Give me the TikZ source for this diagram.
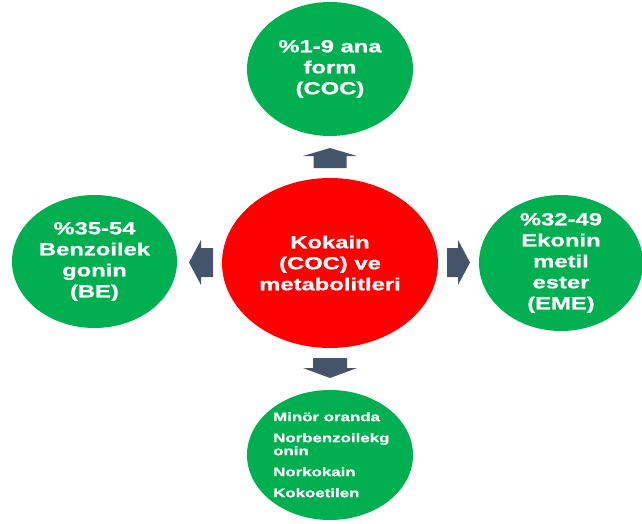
\documentclass[tikz,border=0pt]{standalone}
\usepackage{fontspec}
\newfontfamily\lblfont{Liberation Sans}[FakeStretch=1.36,FakeBold=0.8]
\usepackage{xcolor}
\usetikzlibrary{shapes.geometric,calc}

\definecolor{pptgreen}{HTML}{00B050}
\definecolor{pptred}{HTML}{FF0000}
\definecolor{slate}{HTML}{44546A}

% block arrow: tail, tip, shaft half width, head half width, head length
\newcommand{\blockarrow}[5]{%
  \coordinate (neck) at ($(#2)!#5!(#1)$);
  \fill[blk] ($(#1)!#3!90:(#2)$) -- ($(neck)!#3!-90:(#1)$) -- ($(neck)!#4!-90:(#1)$)
    -- (#2) -- ($(neck)!#4!90:(#1)$) -- ($(neck)!#3!90:(#1)$) -- ($(#1)!#3!-90:(#2)$) -- cycle;
}

\begin{document}
\begin{tikzpicture}[x=1pt, y=-1pt,
  bubble/.style={ellipse, fill=#1, inner sep=0pt},
  lab/.style={text=white, align=center, inner sep=0pt, font=\lblfont\bfseries\fontsize{17.5}{21}\selectfont},
  minor/.style={text=white, align=left, inner sep=0pt, font=\lblfont\bfseries\fontsize{12.4}{13}\selectfont},
  blk/.style={fill=slate}
]
\useasboundingbox (0,0) rectangle (642,524);

% circles
\node[bubble=pptred, minimum width=216pt, minimum height=170pt] (coc) at (330,263) {};
\node[bubble=pptgreen, minimum width=166pt, minimum height=134pt] (ana) at (330,69) {};
\node[bubble=pptgreen, minimum width=165pt, minimum height=133pt] (be) at (94.5,261.5) {};
\node[bubble=pptgreen, minimum width=164pt, minimum height=136pt] (eme) at (561,263) {};
\node[bubble=pptgreen, minimum width=166pt, minimum height=130pt] (minor) at (330,455) {};

% texts
\node[lab] (cocTxt) at (coc) {Kokain\\(COC) ve\\metabolitleri};
\node[lab] (anaTxt) at (ana) {\%1-9 ana\\form\\(COC)};
\node[lab] (beTxt) at (be) {\%35-54\\Benzoilek\\gonin\\(BE)};
\node[lab] (emeTxt) at (eme) {\%32-49\\Ekonin\\metil\\ester\\(EME)};
\node[minor, anchor=north west] (minorTxt) at (273,412)
  {Minör oranda\\[8pt]Norbenzoilekg\\onin\\[8pt]Norkokain\\[8pt]Kokoetilen};

% arrows
\coordinate (upTail) at (330,168);    \coordinate (upTip) at (330,148);
\coordinate (downTail) at (330,358);  \coordinate (downTip) at (330,378);
\coordinate (leftTail) at (213,262.5); \coordinate (leftTip) at (189,262.5);
\coordinate (rightTail) at (447,262.5); \coordinate (rightTip) at (470,262.5);
\blockarrow{upTail}{upTip}{16.5pt}{27pt}{8pt}
\blockarrow{downTail}{downTip}{17pt}{27pt}{10pt}
\blockarrow{leftTail}{leftTip}{14.5pt}{22.5pt}{12pt}
\blockarrow{rightTail}{rightTip}{14.5pt}{22.5pt}{12pt}
\end{tikzpicture}
\end{document}
